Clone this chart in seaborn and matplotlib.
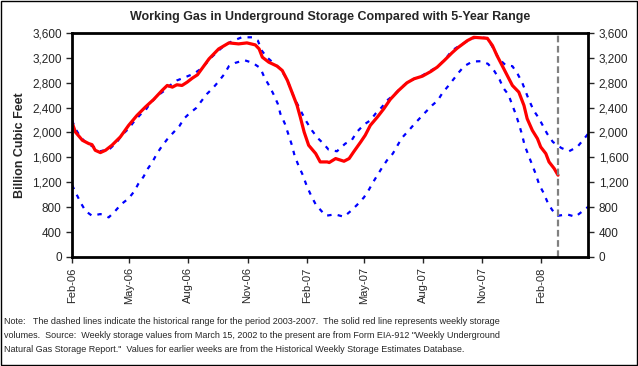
import matplotlib
matplotlib.use("Agg")
import matplotlib.pyplot as plt
import matplotlib.dates as mdates
import pandas as pd
import seaborn as sns

# values (Bcf)
storage_dates = ["2006-02-01", "2006-02-06", "2006-02-17", "2006-02-27", "2006-03-04", "2006-03-09",
                 "2006-03-17", "2006-03-25", "2006-04-04", "2006-04-17", "2006-04-30", "2006-05-13",
                 "2006-05-26", "2006-06-08", "2006-06-21", "2006-06-29", "2006-07-07", "2006-07-14",
                 "2006-07-22", "2006-07-30", "2006-08-07", "2006-08-15", "2006-09-02", "2006-09-17",
                 "2006-10-03", "2006-10-18", "2006-10-31", "2006-11-13", "2006-11-19", "2006-11-24",
                 "2006-12-04", "2006-12-17", "2006-12-25", "2007-01-02", "2007-01-09", "2007-01-17",
                 "2007-01-22", "2007-01-28", "2007-02-04", "2007-02-15", "2007-02-22", "2007-03-05",
                 "2007-03-08", "2007-03-18", "2007-03-31", "2007-04-08", "2007-04-15", "2007-04-26",
                 "2007-05-03", "2007-05-11", "2007-05-22", "2007-06-01", "2007-06-11", "2007-06-24",
                 "2007-07-07", "2007-07-18", "2007-07-31", "2007-08-13", "2007-08-23", "2007-09-03",
                 "2007-09-15", "2007-09-23", "2007-10-09", "2007-10-19", "2007-11-01", "2007-11-09",
                 "2007-11-17", "2007-11-24", "2007-12-02", "2007-12-10", "2007-12-18", "2007-12-28",
                 "2008-01-05", "2008-01-10", "2008-01-18", "2008-01-26", "2008-01-31", "2008-02-08",
                 "2008-02-13", "2008-02-21", "2008-02-27"]
storage = [2160, 2010, 1875, 1821, 1805, 1714,
           1677, 1714, 1795, 1928, 2115, 2275,
           2409, 2532, 2676, 2756, 2729, 2767,
           2756, 2809, 2873, 2927, 3183, 3343,
           3440, 3424, 3440, 3408, 3343, 3210,
           3130, 3066, 2996, 2836, 2649, 2435,
           2249, 2008, 1795, 1661, 1527, 1527,
           1517, 1581, 1538, 1581, 1688, 1848,
           1955, 2115, 2249, 2382, 2532, 2676,
           2799, 2863, 2905, 2980, 3050, 3157,
           3280, 3354, 3477, 3530, 3520, 3514,
           3397, 3237, 3077, 2916, 2756, 2649,
           2435, 2222, 2035, 1901, 1768, 1661,
           1527, 1421, 1314]

upper_dates = ["2006-02-01", "2006-02-06", "2006-02-14", "2006-02-24", "2006-03-07", "2006-03-17",
               "2006-04-01", "2006-04-12", "2006-04-19", "2006-04-30", "2006-05-07", "2006-05-18",
               "2006-05-26", "2006-06-02", "2006-06-13", "2006-06-23", "2006-07-01", "2006-07-14",
               "2006-07-27", "2006-08-09", "2006-08-22", "2006-09-06", "2006-09-17", "2006-09-27",
               "2006-10-10", "2006-10-23", "2006-11-08", "2006-11-17", "2006-11-23", "2006-12-01",
               "2006-12-11", "2006-12-22", "2007-01-01", "2007-01-12", "2007-01-25", "2007-02-01",
               "2007-02-09", "2007-02-18", "2007-02-27", "2007-03-07", "2007-03-20", "2007-04-02",
               "2007-04-12", "2007-04-20", "2007-05-01", "2007-05-11", "2007-05-19", "2007-05-29",
               "2007-06-06", "2007-06-16", "2007-06-27", "2007-07-07", "2007-07-20", "2007-07-31",
               "2007-08-13", "2007-08-23", "2007-09-05", "2007-09-15", "2007-09-23", "2007-10-04",
               "2007-10-17", "2007-10-30", "2007-11-09", "2007-11-19", "2007-11-27", "2007-12-08",
               "2007-12-18", "2007-12-26", "2008-01-02", "2008-01-12", "2008-01-20", "2008-01-28",
               "2008-02-10", "2008-02-19", "2008-03-03", "2008-03-15", "2008-03-28", "2008-04-07",
               "2008-04-14"]
upper = [2195, 2062, 1928, 1821, 1768, 1698,
         1741, 1848, 1955, 2062, 2158, 2286,
         2355, 2462, 2585, 2660, 2740, 2836,
         2889, 2943, 3034, 3210, 3317, 3408,
         3477, 3530, 3530, 3477, 3317, 3210,
         3119, 3023, 2863, 2569, 2302, 2168,
         2035, 1912, 1821, 1725, 1698, 1821,
         1875, 2008, 2126, 2195, 2302, 2409,
         2516, 2596, 2713, 2799, 2873, 2916,
         2996, 3050, 3183, 3317, 3370, 3440,
         3514, 3530, 3514, 3343, 3183, 3077,
         3066, 2943, 2809, 2542, 2355, 2233,
         1982, 1848, 1752, 1698, 1768, 1891,
         1982]

lower_dates = ["2006-02-01", "2006-02-08", "2006-02-15", "2006-02-22", "2006-03-04", "2006-03-17",
               "2006-03-30", "2006-04-09", "2006-04-18", "2006-04-30", "2006-05-09", "2006-05-15",
               "2006-05-23", "2006-05-30", "2006-06-06", "2006-06-13", "2006-06-21", "2006-06-29",
               "2006-07-07", "2006-07-18", "2006-07-25", "2006-08-02", "2006-08-13", "2006-08-22",
               "2006-08-30", "2006-09-08", "2006-09-16", "2006-09-25", "2006-10-03", "2006-10-13",
               "2006-10-27", "2006-11-09", "2006-11-21", "2006-11-27", "2006-12-05", "2006-12-11",
               "2006-12-18", "2006-12-22", "2006-12-29", "2007-01-04", "2007-01-09", "2007-01-13",
               "2007-01-19", "2007-01-26", "2007-02-01", "2007-02-08", "2007-02-15", "2007-02-24",
               "2007-03-03", "2007-03-17", "2007-03-31", "2007-04-11", "2007-04-20", "2007-05-01",
               "2007-05-09", "2007-05-15", "2007-05-22", "2007-05-29", "2007-06-06", "2007-06-15",
               "2007-06-23", "2007-06-29", "2007-07-10", "2007-07-19", "2007-08-04", "2007-08-15",
               "2007-08-24", "2007-08-31", "2007-09-09", "2007-09-18", "2007-09-26", "2007-10-04",
               "2007-10-17", "2007-10-31", "2007-11-10", "2007-11-20", "2007-11-28", "2007-12-04",
               "2007-12-12", "2007-12-18", "2007-12-23", "2007-12-28", "2008-01-02", "2008-01-06",
               "2008-01-12", "2008-01-17", "2008-01-23", "2008-01-29", "2008-02-05", "2008-02-11",
               "2008-02-18", "2008-02-27", "2008-03-12", "2008-03-25", "2008-04-04", "2008-04-14"]
lower = [1154, 1004, 860, 737, 662, 689,
         636, 737, 844, 940, 1058, 1175,
         1287, 1421, 1527, 1661, 1784, 1891,
         1982, 2104, 2222, 2302, 2393, 2516,
         2622, 2713, 2809, 2927, 3066, 3119,
         3162, 3119, 3034, 2889, 2745, 2622,
         2462, 2302, 2142, 1955, 1795, 1634,
         1474, 1314, 1143, 983, 844, 737,
         662, 684, 646, 742, 833, 956,
         1084, 1196, 1314, 1431, 1554, 1661,
         1805, 1912, 2035, 2142, 2318, 2435,
         2516, 2633, 2745, 2863, 2970, 3066,
         3141, 3146, 3103, 2986, 2852, 2713,
         2606, 2435, 2302, 2142, 1966, 1795,
         1634, 1501, 1341, 1154, 1020, 871,
         753, 662, 684, 646, 726, 806]

latest_week = "2008-02-27"
x_range = ("2006-02-01", "2008-04-14")
tick_dates = ["2006-02-01", "2006-05-01", "2006-08-01", "2006-11-01", "2007-02-01",
              "2007-05-01", "2007-08-01", "2007-11-01", "2008-02-01"]

note = ("Note:   The dashed lines indicate the historical range for the period 2003-2007.  "
        "The solid red line represents weekly storage\n"
        "volumes.  Source:  Weekly storage values from March 15, 2002 to the present are from "
        "Form EIA-912 \"Weekly Underground\n"
        "Natural Gas Storage Report.\"  Values for earlier weeks are from the Historical "
        "Weekly Storage Estimates Database.")

sns.set_style("white")
plt.rcParams["font.family"] = ["Liberation Sans", "DejaVu Sans"]

act = pd.DataFrame({"date": pd.to_datetime(storage_dates), "bcf": storage})
hi = pd.DataFrame({"date": pd.to_datetime(upper_dates), "bcf": upper})
lo = pd.DataFrame({"date": pd.to_datetime(lower_dates), "bcf": lower})

fig, ax = plt.subplots(figsize=(6.38, 3.66), dpi=100)
fig.subplots_adjust(left=0.113, right=0.922, top=0.91, bottom=0.298)

dash = (0, (2.0, 2.8))
sns.lineplot(data=hi, x="date", y="bcf", ax=ax, color="blue", lw=1.6, linestyle=dash)
sns.lineplot(data=lo, x="date", y="bcf", ax=ax, color="blue", lw=1.6, linestyle=dash)
sns.lineplot(data=act, x="date", y="bcf", ax=ax, color="red", lw=2.3)
ax.axvline(pd.Timestamp(latest_week), color="#808080", lw=1.6, linestyle=(0, (3, 1.6)))

ax.set_xlim(pd.Timestamp(x_range[0]), pd.Timestamp(x_range[1]))
ax.set_ylim(0, 3600)
ax.set_yticks(range(0, 3601, 400))
ax.yaxis.set_major_formatter(matplotlib.ticker.StrMethodFormatter("{x:,.0f}"))
ax.set_xticks(pd.to_datetime(tick_dates))
ax.xaxis.set_major_formatter(mdates.DateFormatter("%b-%y"))
ax.tick_params(axis="x", rotation=90, labelsize=8, length=4, width=1, direction="out", bottom=True)
ax.tick_params(axis="y", labelsize=8.5, length=4, width=1, direction="out",
               left=True, right=True, labelleft=True, labelright=True)
for s in ax.spines.values():
    s.set_visible(True)
    s.set_linewidth(2)
    s.set_color("black")

ax.set_xlabel("")
ax.set_ylabel("Billion Cubic Feet", fontsize=9, fontweight="bold", labelpad=4)
ax.set_title("Working Gas in Underground Storage Compared with 5-Year Range",
             fontsize=9, fontweight="bold", pad=9)

fig.text(4 / 638, 1 - 317 / 366, note, fontsize=6.45, va="top", ha="left", linespacing=1.7)
fig.add_artist(plt.Rectangle((0.001, 0.002), 0.997, 0.996, transform=fig.transFigure,
                             fill=False, lw=1, color="black"))

fig.savefig("out.png", dpi=100)
